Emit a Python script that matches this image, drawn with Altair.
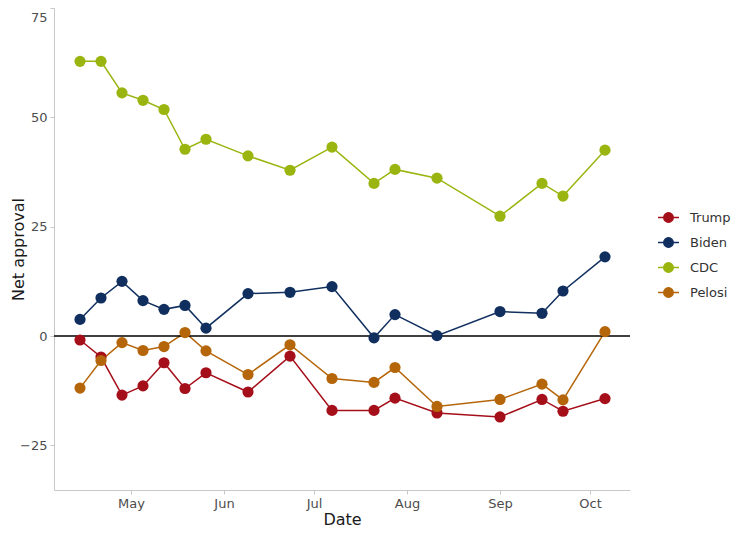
import altair as alt
import pandas as pd

dates = ["2020-04-14", "2020-04-21", "2020-04-28", "2020-05-05", "2020-05-12", "2020-05-19",
         "2020-05-26", "2020-06-09", "2020-06-23", "2020-07-07", "2020-07-21", "2020-07-28",
         "2020-08-11", "2020-09-01", "2020-09-15", "2020-09-22", "2020-10-06"]
trump = [-0.9, -4.8, -13.5, -11.4, -6.1, -12.0, -8.4, -12.8, -4.6, -17.0, -17.0, -14.2,
         -17.6, -18.5, -14.5, -17.2, -14.3]
biden = [3.8, 8.7, 12.5, 8.1, 6.1, 7.0, 1.8, 9.7, 10.0, 11.3, -0.4, 4.9, 0.1, 5.6, 5.2, 10.3, 18.1]
cdc = [62.8, 62.8, 55.6, 53.9, 51.8, 42.7, 45.0, 41.2, 37.9, 43.2, 34.9, 38.1, 36.1, 27.4,
       34.9, 32.0, 42.5]
pelosi = [-11.9, -5.6, -1.5, -3.3, -2.4, 0.8, -3.4, -8.8, -2.0, -9.7, -10.6, -7.2, -16.1,
          -14.5, -11.0, -14.6, 1.0]

series_names = ["Trump", "Biden", "CDC", "Pelosi"]
series_colors = ["#a50f1a", "#102f5f", "#9ab510", "#b5660a"]
y_ticks = [-25, 0, 25, 50, 75]
month_ticks = [5, 6, 7, 8, 9, 10]

rows = []
for name, vals in zip(series_names, [trump, biden, cdc, pelosi]):
    for d, v in zip(dates, vals):
        rows.append({"date": d + "T00:00:00", "series": name, "value": v})
df = pd.DataFrame(rows)

FONT = "DejaVu Sans"

legend_symbol = ("M-1,0L1,0"
                 "M0.45,0A0.45,0.45,0,1,1,-0.45,0A0.45,0.45,0,1,1,0.45,0"
                 "M0.3,0A0.3,0.3,0,1,1,-0.3,0A0.3,0.3,0,1,1,0.3,0"
                 "M0.15,0A0.15,0.15,0,1,1,-0.15,0A0.15,0.15,0,1,1,0.15,0")

x_enc = alt.X(
    "date:T",
    title="Date",
    scale=alt.Scale(domain=[alt.DateTime(year=2020, month=4, date=5, hours=8),
                            alt.DateTime(year=2020, month=10, date=14, hours=8)]),
    axis=alt.Axis(values=[alt.DateTime(year=2020, month=m, date=1) for m in month_ticks],
                  format="%b", labelPadding=3, titlePadding=1),
)
y_enc = alt.Y(
    "value:Q",
    title="Net approval",
    scale=alt.Scale(domain=[-35.2, 75], nice=False, zero=False),
    axis=alt.Axis(values=y_ticks, labelFlush=True, labelFlushOffset=-3,
                  labelPadding=3, titleX=-36, titleY=241, titleBaseline="middle",
                  titleAngle=270),
)
color_enc = alt.Color(
    "series:N",
    scale=alt.Scale(domain=series_names, range=series_colors),
    legend=alt.Legend(title=None, orient="none", legendX=603, legendY=198,
                      symbolType=legend_symbol, symbolSize=441, symbolStrokeWidth=1.5,
                      labelOffset=10, rowPadding=5, labelFontSize=13, labelFont=FONT,
                      labelColor="#333333"),
)

base = alt.Chart(df)
zero = alt.Chart(pd.DataFrame({"value": [0]})).mark_rule(color="black", strokeWidth=1.5).encode(
    y=alt.Y("value:Q"))
lines = base.mark_line(strokeWidth=1.5).encode(x=x_enc, y=y_enc, color=color_enc)
points = base.mark_circle(size=125, opacity=1).encode(x=x_enc, y=y_enc, color=color_enc)

chart = alt.layer(lines, zero, points).properties(
    width=576, height=482,
    autosize="none",
    padding={"left": 46, "top": 0, "right": 112, "bottom": 40},
    background="white",
).configure_view(stroke=None).configure_axis(
    grid=False,
    domainColor="#c8c8c8",
    tickColor="#c8c8c8",
    tickSize=4,
    labelFont=FONT,
    labelFontSize=13,
    labelColor="#4d4d4d",
    titleFont=FONT,
    titleFontSize=16,
    titleFontWeight="normal",
    titleColor="#1a1a1a",
)

chart.save("out.html", embed_options={"renderer": "svg", "actions": False})
